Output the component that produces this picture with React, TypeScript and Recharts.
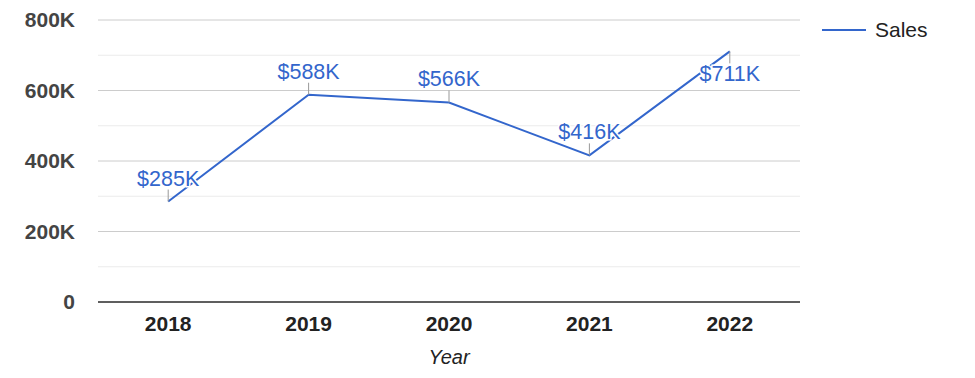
import React from 'react';
import { LineChart, Line, XAxis, YAxis, CartesianGrid, ReferenceLine, LabelList, Legend } from 'recharts';

const years = ['2018', '2019', '2020', '2021', '2022'];
const sales = [285000, 588000, 566000, 416000, 711000];
const yTicks = [0, 200000, 400000, 600000, 800000];
const minorTicks = [100000, 300000, 500000, 700000];

const data = years.map((year, i) => ({ year, sales: sales[i] }));

const FONT = 'Arial, "Liberation Sans", sans-serif';
const BLUE = '#3366cc';
const PLOT_TOP = 20;

const fmtK = (v: number) => (v === 0 ? '0' : `${Math.round(v / 1000)}K`);

const Annotation = (props: any) => {
  const { x, y, value } = props;
  if (x == null || y == null) return null;
  const stem = 12;
  const below = y - stem - 22 < PLOT_TOP;
  const y2 = below ? y + stem : y - stem;
  const ty = below ? y + 30 : y - 16;
  return (
    <g>
      <line x1={x} y1={y} x2={x} y2={y2} stroke="#999999" strokeWidth={1} />
      <text
        x={x}
        y={ty}
        textAnchor="middle"
        fontFamily={FONT}
        fontSize={21.5}
        fill={BLUE}
        stroke="#ffffff"
        strokeWidth={3}
        paintOrder="stroke"
      >
        {`$${fmtK(value)}`}
      </text>
    </g>
  );
};

const LegendContent = () => (
  <div style={{ display: 'flex', alignItems: 'center', height: 24, fontFamily: FONT, fontSize: 21, color: '#222222' }}>
    <svg width={44} height={4} style={{ display: 'block' }}>
      <line x1={0} y1={2} x2={44} y2={2} stroke={BLUE} strokeWidth={2} />
    </svg>
    <span style={{ marginLeft: 9 }}>Sales</span>
  </div>
);

export default function App() {
  return (
    <div style={{ position: 'absolute', left: 0, top: 0, width: 975, height: 378, background: '#fff' }}>
      <LineChart width={975} height={378} data={data} margin={{ top: 20, right: 175, bottom: 0, left: 0 }}>
        <CartesianGrid vertical={false} stroke="#cccccc" strokeWidth={1} />
        {minorTicks.map((t) => (
          <ReferenceLine key={t} y={t} stroke="#ebebeb" strokeWidth={1} />
        ))}
        <ReferenceLine y={0} stroke="#333333" strokeWidth={1} />
        <XAxis
          dataKey="year"
          height={76}
          padding={{ left: 70.2, right: 70.2 }}
          axisLine={{ stroke: '#333333', strokeWidth: 1 }}
          tickLine={false}
          tickSize={0}
          tickMargin={14}
          tick={{ fontFamily: FONT, fontSize: 21, fontWeight: 'bold', fill: '#222222' }}
          label={{ value: 'Year', position: 'insideBottom', offset: 14, fontFamily: FONT, fontSize: 20, fontStyle: 'italic', fill: '#222222' }}
        />
        <YAxis
          width={98}
          domain={[0, 800000]}
          ticks={yTicks}
          tickFormatter={fmtK}
          axisLine={false}
          tickLine={false}
          tickSize={0}
          tickMargin={23}
          tick={{ fontFamily: FONT, fontSize: 21, fontWeight: 'bold', fill: '#444444' }}
        />
        <Legend
          layout="horizontal"
          verticalAlign="middle"
          align="center"
          content={<LegendContent />}
          wrapperStyle={{ position: 'absolute', left: 822, top: 18, width: 150, height: 24 }}
        />
        <Line
          type="linear"
          dataKey="sales"
          name="Sales"
          stroke={BLUE}
          strokeWidth={2}
          dot={false}
          activeDot={false}
          isAnimationActive={false}
        >
          <LabelList dataKey="sales" content={<Annotation />} />
        </Line>
      </LineChart>
    </div>
  );
}
